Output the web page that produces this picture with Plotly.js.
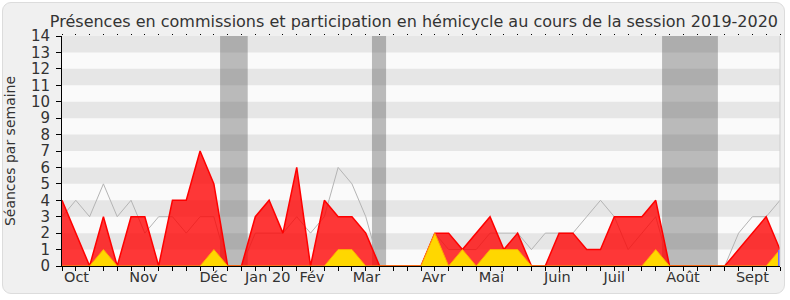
<!DOCTYPE html>
<html>
<head>
<meta charset="utf-8">
<script src="https://cdn.plot.ly/plotly-3.0.1.min.js"></script>
<style>
  html, body { margin:0; padding:0; background:#ffffff; }
  #frame { position:absolute; left:2px; top:2px; width:783px; height:292px; box-sizing:border-box;
           border:1px solid #dcdcdc; border-radius:9px; background:#f0f0f0; }
  #chart { position:absolute; left:0; top:0; width:790px; height:300px; }
</style>
</head>
<body>
<div id="frame"></div>
<div id="chart"></div>
<script>
// Week index (0 = first week of the session)
const weeks = Array.from({length: 53}, (_, i) => i);

// Présences en commission (red area)
const presencesCommission = [4,2,0,3,0,3,3,0,4,4,7,5,0,0,3,4,2,6,0,4,3,3,2,0,0,0,0,2,2,1,2,3,1,2,0,0,2,2,1,1,3,3,3,4,0,0,0,0,0,1,2,3,1];
// Participation en commission (yellow area)
const participationCommission = [0,0,0,1,0,0,0,0,0,0,0,1,0,0,0,0,0,0,0,0,1,1,0,0,0,0,0,2,0,1,0,1,1,1,0,0,0,0,0,0,0,0,0,1,0,0,0,0,0,0,0,0,1];
// Participation en hémicycle (blue)
const participationHemicycle = [0,0,0,0,0,0,0,0,0,0,0,0,0,0,0,0,0,0,0,0,0,0,0,0,0,0,0,0,0,0,0,0,0,0,0,0,0,0,0,0,0,0,0,0,0,0,0,0,0,0,0,0,1];
// Médiane des députés (gray line)
const mediane = [3,4,3,5,3,4,2,3,3,2,3,3,0,0,2,2,2,3,2,3,6,5,3,0,0,0,0,2,1,1,1,2,2,2,1,2,2,2,3,4,3,1,2,3,0,0,0,0,0,2,3,3,4];

// Vacations (in week units)
const vacances = [[11.45, 13.45], [22.45, 23.47], [43.46, 47.5]];

// Month labels
const monthLabels = ["Oct","Nov","Déc","Jan 20","Fév","Mar","Avr","Mai","Juin","Juil","Août","Sept"];
const monthPos = [1.05, 5.9, 10.97, 14.9, 18.1, 22.05, 26.93, 31.1, 35.88, 40.0, 44.98, 50.0];

const yTicks = Array.from({length: 15}, (_, i) => i);

const FONT = "DejaVu Sans, sans-serif";

const shapes = [];
for (let k = 1; k < 14; k += 2) {
  shapes.push({type:'rect', layer:'below', xref:'paper', yref:'y', x0:0, x1:1, y0:k, y1:k+1,
               fillcolor:'#e6e6e6', line:{width:0}});
}
vacances.forEach(v => shapes.push({type:'rect', layer:'below', xref:'x', yref:'paper',
  x0:v[0], x1:v[1], y0:0, y1:1, fillcolor:'rgba(67,67,67,0.35)', line:{width:0}}));
shapes.push({type:'line', layer:'above', xref:'paper', yref:'paper', x0:1, x1:1, y0:0, y1:1,
             line:{color:'#cfcfcf', width:1}});

const traces = [
  {x: weeks, y: mediane, type:'scatter', mode:'lines', line:{color:'#b4b4b4', width:1}, hoverinfo:'skip'},
  {x: weeks, y: presencesCommission, type:'scatter', mode:'lines', fill:'tozeroy',
   fillcolor:'rgba(255,0,0,0.78)', line:{color:'#ff0000', width:1.5}, hoverinfo:'skip'},
  {x: weeks, y: participationCommission, type:'scatter', mode:'lines', fill:'tozeroy',
   fillcolor:'#ffd700', line:{color:'#ffaa00', width:1}, hoverinfo:'skip'},
  {x: [0], y: [0], xaxis:'x2', type:'scatter', mode:'markers', marker:{opacity:0}, hoverinfo:'skip'},
  {x: weeks, y: participationHemicycle, xaxis:'x3', type:'bar', width:0.3,
   marker:{color:'#6b6bff', line:{width:0}}, hoverinfo:'skip'}
];

const layout = {
  width: 790, height: 300,
  margin: {l:62, r:10, t:36, b:34, pad:0},
  paper_bgcolor:'rgba(0,0,0,0)',
  plot_bgcolor:'#fafafa',
  showlegend:false,
  hovermode:false,
  font:{family:FONT, size:14, color:'#333333'},
  title:{text:"Présences en commissions et participation en hémicycle au cours de la session 2019-2020",
         font:{family:FONT, size:16, color:'#333333'},
         xref:'container', x:0.524, xanchor:'center', yref:'container', y:0.93, yanchor:'middle'},
  xaxis:{range:[0,52], tickmode:'array', tickvals:weeks, showticklabels:false,
         ticks:'outside', ticklen:4, tickcolor:'#000', tickwidth:1,
         showline:true, linecolor:'#000', linewidth:1, showgrid:false, zeroline:false, fixedrange:true},
  xaxis2:{range:[0,52], overlaying:'x', side:'bottom', tickmode:'array', tickvals:monthPos, ticktext:monthLabels,
          ticks:'', showline:false, showgrid:false, zeroline:false,
          tickfont:{family:FONT, size:14.5, color:'#333333'}, fixedrange:true},
  xaxis3:{range:[0,52], overlaying:'x', side:'top', tickmode:'array', tickvals:weeks, showticklabels:false,
          ticks:'outside', ticklen:1, tickcolor:'#000', showline:false, showgrid:false, zeroline:false, fixedrange:true},
  yaxis:{range:[0,14], tickmode:'array', tickvals:yTicks, ticks:'outside', ticklen:5, tickcolor:'#000',
         showline:true, linecolor:'#000', linewidth:1, showgrid:false, zeroline:false,
         tickfont:{family:FONT, size:15, color:'#333333'}, ticklabelstandoff:3,
         title:{text:'Séances par semaine', font:{family:FONT, size:14, color:'#333333'}, standoff:12},
         fixedrange:true},
  bargap:0,
  shapes: shapes
};

Plotly.newPlot('chart', traces, layout, {staticPlot:true, displayModeBar:false});
</script>
</body>
</html>
